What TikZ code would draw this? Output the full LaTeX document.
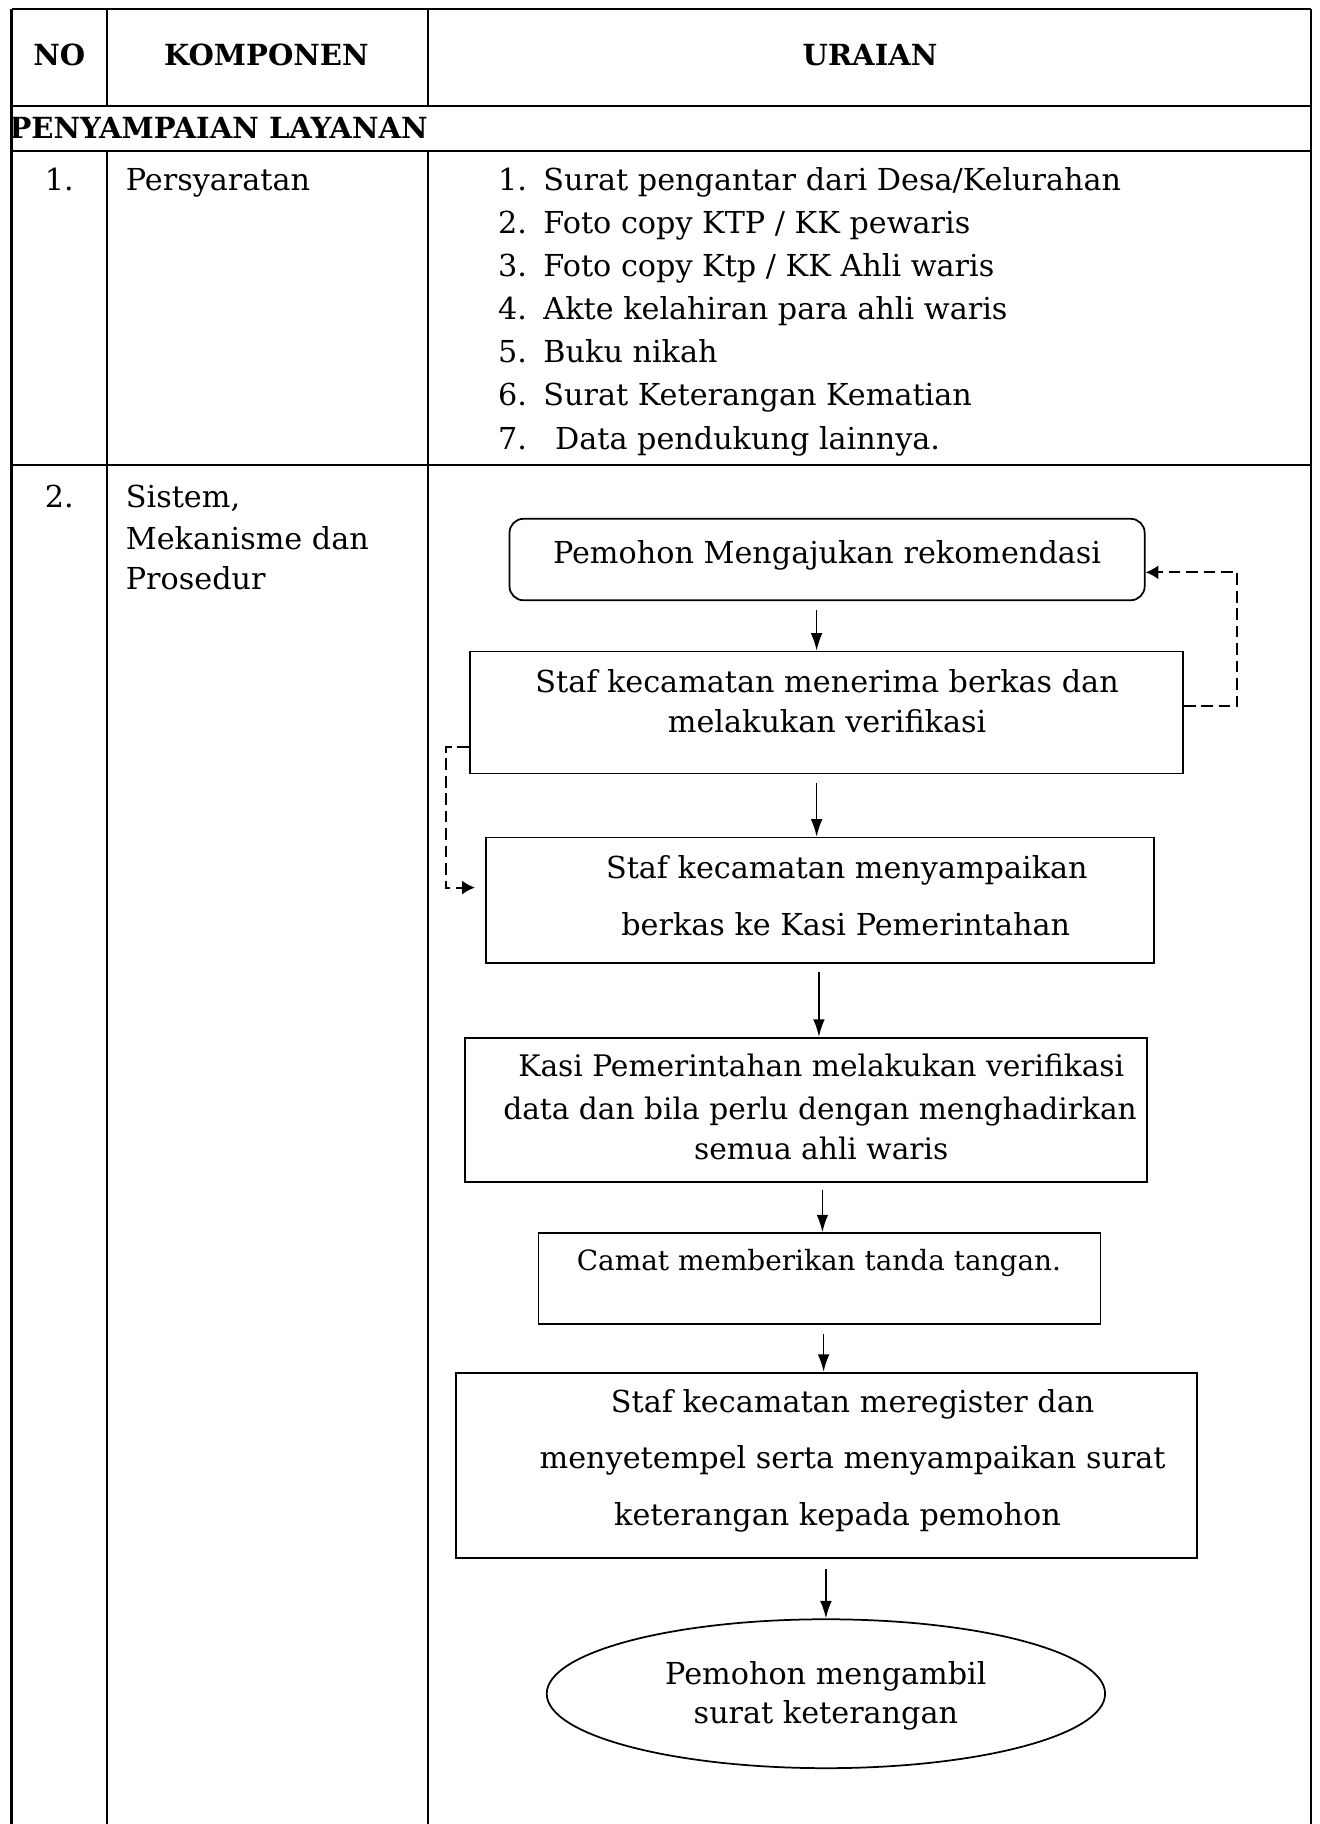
\documentclass[tikz,border=0pt]{standalone}
\usepackage{fontspec}
\setmainfont{DejaVu Serif}
\usetikzlibrary{arrows.meta,shapes.geometric}
\tikzset{
  grid/.style={line width=2bp},
  txt/.style={anchor=base, inner sep=0pt, font=\fontsize{26bp}{37bp}\selectfont},
  lft/.style={anchor=base west, inner sep=0pt, font=\fontsize{26bp}{37bp}\selectfont},
  hdr/.style={anchor=base, inner sep=0pt, font=\fontsize{25bp}{30bp}\selectfont\bfseries},
  box/.style={draw, line width=1.5bp, inner sep=0pt},
  arr/.style={line width=1.3bp, -{Latex[length=15bp,width=10bp]}},
  darr/.style={line width=1.7bp, dash pattern=on 10bp off 5bp, -{Latex[length=11bp,width=12bp]}},
}
\begin{document}
\begin{tikzpicture}[x=1bp,y=-1bp]
\useasboundingbox (0,0) rectangle (1134,1568);
% table grid
\draw[grid] (10,8) -- (1127,8);
\draw[grid] (10,91) -- (1127,91);
\draw[grid] (10,130) -- (1127,130);
\draw[grid] (10,400) -- (1127,400);
\draw[grid] (10,8) -- (10,1568);
\draw[grid] (1127,8) -- (1127,1568);
\draw[grid] (92,8) -- (92,91);
\draw[grid] (368,8) -- (368,91);
\draw[grid] (92,130) -- (92,1568);
\draw[grid] (368,130) -- (368,1568);
% headers
\node[hdr] (hno) at (51,56) {NO};
\node[hdr] (hkom) at (229,56) {KOMPONEN};
\node[hdr] (hura) at (748,56) {URAIAN};
\node[hdr, anchor=base west] (hsec) at (8,119) {PENYAMPAIAN LAYANAN};
% row 1
\node[txt] (n1) at (51,164) {1.};
\node[lft] (k1) at (108,164) {Persyaratan};
\node[lft] (i1n) at (428,164) {1.};
\node[lft] (i1) at (467,164) {Surat pengantar dari Desa/Kelurahan};
\node[lft] (i2n) at (428,201) {2.};
\node[lft] (i2) at (467,201) {Foto copy KTP / KK pewaris};
\node[lft] (i3n) at (428,238) {3.};
\node[lft] (i3) at (467,238) {Foto copy Ktp / KK Ahli waris};
\node[lft] (i4n) at (428,275) {4.};
\node[lft] (i4) at (467,275) {Akte kelahiran para ahli waris};
\node[lft] (i5n) at (428,312) {5.};
\node[lft] (i5) at (467,312) {Buku nikah};
\node[lft] (i6n) at (428,349) {6.};
\node[lft] (i6) at (467,349) {Surat Keterangan Kematian};
\node[lft] (i7n) at (428,386) {7.};
\node[lft] (i7) at (477,386) {Data pendukung lainnya.};
% row 2
\node[txt] (n2) at (51,436) {2.};
\node[lft] (k2a) at (108,436) {Sistem,};
\node[lft] (k2b) at (108,472) {Mekanisme dan};
\node[lft] (k2c) at (108,507) {Prosedur};
% flowchart boxes
\node[box, rounded corners=12bp, minimum width=546bp, minimum height=70bp] (b1) at (711,481) {};
\node[txt] (t1) at (711,484) {Pemohon Mengajukan rekomendasi};
\node[box, minimum width=613bp, minimum height=105bp] (b2) at (710.5,612.5) {};
\node[txt] (t2a) at (711,595) {Staf kecamatan menerima berkas dan};
\node[txt] (t2b) at (711,630) {melakukan verifikasi};
\node[box, minimum width=574bp, minimum height=108bp] (b3) at (705,774) {};
\node[txt] (t3a) at (728,755) {Staf kecamatan menyampaikan};
\node[txt] (t3b) at (727,804) {berkas ke Kasi Pemerintahan};
\node[box, minimum width=586bp, minimum height=124bp] (b4) at (693,954) {};
\node[txt, font=\fontsize{25.5bp}{37bp}\selectfont] (t4a) at (706,925) {Kasi Pemerintahan melakukan verifikasi};
\node[txt, font=\fontsize{25.5bp}{37bp}\selectfont] (t4b) at (705,962) {data dan bila perlu dengan menghadirkan};
\node[txt, font=\fontsize{25.5bp}{37bp}\selectfont] (t4c) at (706,997) {semua ahli waris};
\node[box, minimum width=483bp, minimum height=78bp] (b5) at (704.5,1099) {};
\node[txt, font=\fontsize{24bp}{30bp}\selectfont] (t5) at (704,1092) {Camat memberikan tanda tangan.};
\node[box, minimum width=637bp, minimum height=159bp] (b6) at (710.5,1259.5) {};
\node[txt] (t6a) at (733,1214) {Staf kecamatan meregister dan};
\node[txt] (t6b) at (733,1262) {menyetempel serta menyampaikan surat};
\node[txt] (t6c) at (720,1311) {keterangan kepada pemohon};
\node[box, ellipse, minimum width=480bp, minimum height=128bp] (e1) at (710,1456) {};
\node[txt] (t7a) at (710,1448) {Pemohon mengambil};
\node[txt] (t7b) at (710,1482) {surat keterangan};
% arrows
\draw[arr] ([xshift=-9bp,yshift=-8bp]b1.south) -- ([xshift=-9bp]b1.south |- b2.north);
\draw[arr] ([xshift=-8.5bp,yshift=-7bp]b2.south) -- ([xshift=-8.5bp]b2.south |- b3.north);
\draw[arr] ([xshift=-1bp,yshift=-7bp]b3.south) -- ([xshift=-1bp]b3.south |- b4.north);
\draw[arr] ([xshift=14bp,yshift=-6bp]b4.south) -- ([xshift=14bp]b4.south |- b5.north);
\draw[arr] ([xshift=3.5bp,yshift=-8bp]b5.south) -- ([xshift=3.5bp]b5.south |- b6.north);
\draw[arr] ([xshift=-0.5bp,yshift=-9bp]b6.south) -- (e1.north);
% dashed feedback
\draw[darr] ([yshift=5.5bp]b2.east) -- ++(46,0) |- ([yshift=-11bp]b1.east);
\draw[darr] ([yshift=-29.5bp]b2.west) -- ++(-20,0) |- ([xshift=-9bp,yshift=11bp]b3.west);
\end{tikzpicture}
\end{document}
